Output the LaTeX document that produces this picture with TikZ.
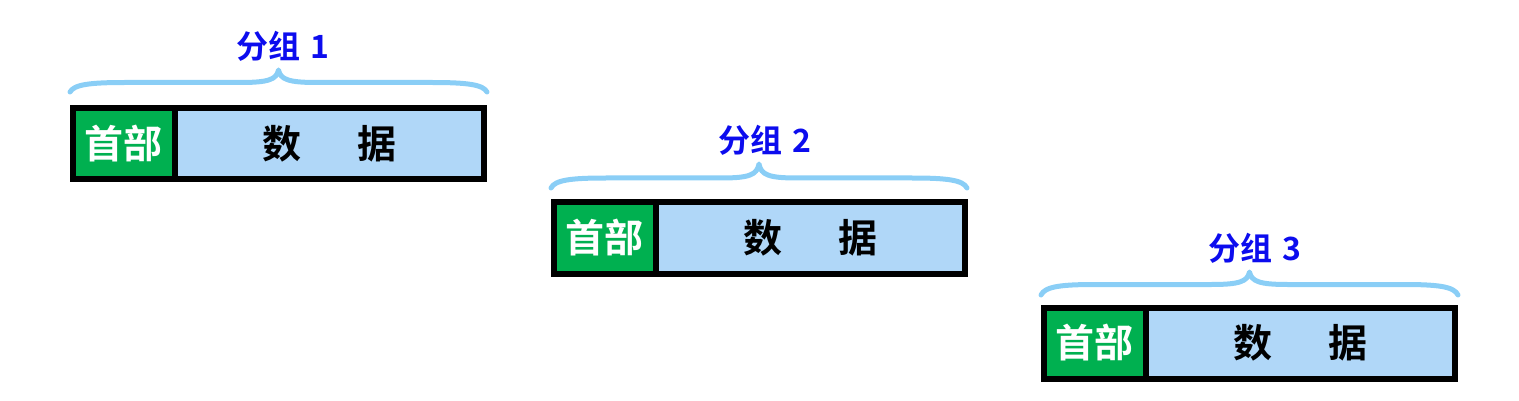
\documentclass[tikz,border=0pt]{standalone}
\usepackage{fontspec}
\newfontfamily\cjkb{Noto Sans CJK SC Bold}
\definecolor{hdrgreen}{RGB}{0,176,80}
\definecolor{datablue}{RGB}{176,215,248}
\definecolor{bracecol}{RGB}{138,206,246}
\definecolor{lblblue}{RGB}{12,12,238}
\tikzset{
  cell/.style={draw=black, line width=6pt, inner sep=0pt, outer sep=0pt, minimum height=71pt, anchor=north west},
  hdrcell/.style={cell, fill=hdrgreen, minimum width=101.5pt, text=white, font=\cjkb\fontsize{39}{40}\selectfont},
  datcell/.style={cell, fill=datablue, minimum width=309.5pt, text=black, font=\cjkb\fontsize{39}{40}\selectfont},
  bracepath/.style={draw=bracecol, line width=5pt, line cap=round, line join=round},
  grplabel/.style={text=lblblue, font=\cjkb\fontsize{32}{34}\selectfont, inner sep=0pt}
}
\newcommand{\grpbrace}[5]{% xL xR yEnd yFlat yTip
  \pgfmathsetmacro{\xc}{(#1+#2)/2}
  \draw[bracepath] (#1,#3) .. controls (#1+4,#4+2) and (#1+20,#4) .. (#1+55,#4)
    -- (\xc-38,#4) .. controls (\xc-10,#4) and (\xc-2,#4-3) .. (\xc,#5)
    .. controls (\xc+2,#4-3) and (\xc+10,#4) .. (\xc+38,#4)
    -- (#2-55,#4) .. controls (#2-20,#4) and (#2-4,#4+2) .. (#2,#3);
}
\begin{document}
\begin{tikzpicture}[x=1pt,y=-1pt]
\useasboundingbox (0,0) rectangle (1519,401);
% group 1
\node[hdrcell] (h1) at (73,108) {首部};
\node[datcell] (d1) at (174.5,108) {数\hspace{56pt}据};
\grpbrace{70}{487}{92}{82.5}{70}
\node[grplabel] (l1) at (283,46) {分组\hspace{0.3em}1};
% group 2
\node[hdrcell] (h2) at (554,202.5) {首部};
\node[datcell] (d2) at (655.5,202.5) {数\hspace{56pt}据};
\grpbrace{551}{967}{188}{178}{164}
\node[grplabel] (l2) at (765,140) {分组\hspace{0.3em}2};
% group 3
\node[hdrcell] (h3) at (1044,307.5) {首部};
\node[datcell] (d3) at (1145.5,307.5) {数\hspace{56pt}据};
\grpbrace{1041}{1458}{295}{284.5}{272}
\node[grplabel] (l3) at (1255,248) {分组\hspace{0.3em}3};
\end{tikzpicture}
\end{document}
